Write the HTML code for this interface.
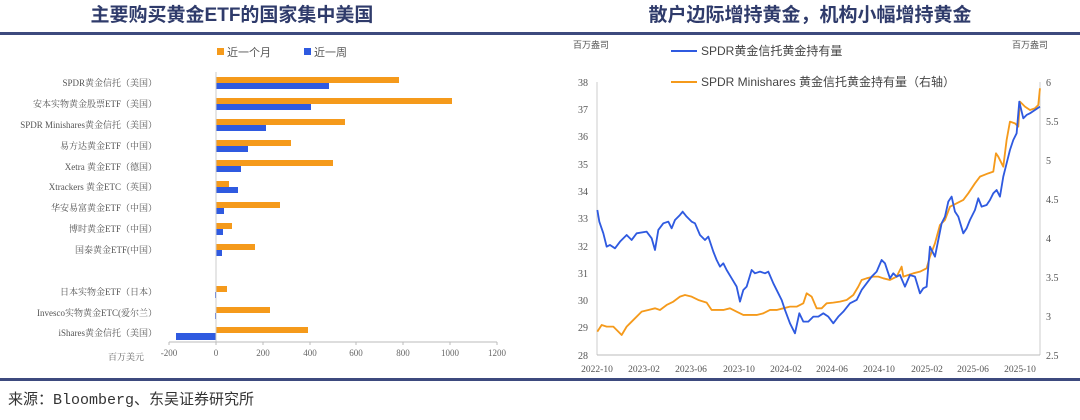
<!DOCTYPE html>
<html><head><meta charset="utf-8"><style>
body{margin:0;background:#fff;width:1080px;height:415px;overflow:hidden}
svg text{font-family:"Liberation Serif","Noto Serif CJK SC",serif}
svg text.s{font-family:"Liberation Sans","Noto Sans CJK SC",sans-serif}
</style></head><body>
<svg width="1080" height="415" viewBox="0 0 1080 415" xmlns="http://www.w3.org/2000/svg">
<rect width="1080" height="415" fill="#fff"/>
<g font-weight="bold" font-size="19" fill="#2f3b6b">
<text class="s" x="232" y="21" text-anchor="middle">主要购买黄金ETF的国家集中美国</text>
<text class="s" x="810" y="21" text-anchor="middle">散户边际增持黄金，机构小幅增持黄金</text>
</g>
<rect x="0" y="32" width="1080" height="3" fill="#3d4a7e"/>
<rect x="0" y="378" width="1080" height="3" fill="#3d4a7e"/>
<text x="8" y="404" font-size="15" fill="#333" style="font-family:'Liberation Mono','Noto Sans CJK SC',monospace">来源：Bloomberg、东吴证券研究所</text>

<!-- Left chart -->
<rect x="217" y="48" width="7" height="7" fill="#f59a1b"/>
<text class="s" x="227" y="56" font-size="11" fill="#555">近一个月</text>
<rect x="304" y="48" width="7" height="7" fill="#2f5ae0"/>
<text class="s" x="314" y="56" font-size="11" fill="#555">近一周</text>
<g fill="#f59a1b">
<rect x="216" y="77" width="183" height="6"/>
<rect x="216" y="98" width="236" height="6"/>
<rect x="216" y="119" width="129" height="6"/>
<rect x="216" y="140" width="75" height="6"/>
<rect x="216" y="160" width="117" height="6"/>
<rect x="216" y="181" width="13" height="6"/>
<rect x="216" y="202" width="64" height="6"/>
<rect x="216" y="223" width="16" height="6"/>
<rect x="216" y="244" width="39" height="6"/>
<rect x="216" y="286" width="11" height="6"/>
<rect x="216" y="307" width="54" height="6"/>
<rect x="216" y="327" width="92" height="6"/>
</g>
<g fill="#2f5ae0">
<rect x="216" y="83" width="113" height="6"/>
<rect x="216" y="104" width="95" height="6"/>
<rect x="216" y="125" width="50" height="6"/>
<rect x="216" y="146" width="32" height="6"/>
<rect x="216" y="166" width="25" height="6"/>
<rect x="216" y="187" width="22" height="6"/>
<rect x="216" y="208" width="8" height="6"/>
<rect x="216" y="229" width="7" height="6"/>
<rect x="216" y="250" width="6" height="6"/>
<rect x="215" y="292" width="1" height="6"/>
<rect x="215" y="313" width="1" height="6"/>
<rect x="176" y="333" width="40" height="7"/>
</g>
<line x1="216" y1="72" x2="216" y2="342" stroke="#ccc"/>
<line x1="169" y1="342" x2="497" y2="342" stroke="#bbb"/>
<g stroke="#bbb">
<line x1="169" y1="342" x2="169" y2="345"/><line x1="216" y1="342" x2="216" y2="345"/><line x1="263" y1="342" x2="263" y2="345"/><line x1="310" y1="342" x2="310" y2="345"/><line x1="356" y1="342" x2="356" y2="345"/><line x1="403" y1="342" x2="403" y2="345"/><line x1="450" y1="342" x2="450" y2="345"/><line x1="497" y1="342" x2="497" y2="345"/>
</g>
<g font-size="9" fill="#666" text-anchor="middle">
<text x="169" y="356">-200</text><text x="216" y="356">0</text><text x="263" y="356">200</text><text x="310" y="356">400</text><text x="356" y="356">600</text><text x="403" y="356">800</text><text x="450" y="356">1000</text><text x="497" y="356">1200</text>
</g>
<text x="126" y="360" font-size="9" fill="#666" text-anchor="middle">百万美元</text>
<g font-size="9" fill="#555" text-anchor="end">
<text x="157" y="86">SPDR黄金信托（美国）</text>
<text x="157" y="107">安本实物黄金股票ETF（美国）</text>
<text x="157" y="128">SPDR Minishares黄金信托（美国）</text>
<text x="157" y="149">易方达黄金ETF（中国）</text>
<text x="157" y="170">Xetra 黄金ETF（德国）</text>
<text x="157" y="190">Xtrackers 黄金ETC（英国）</text>
<text x="157" y="211">华安易富黄金ETF（中国）</text>
<text x="157" y="232">博时黄金ETF（中国）</text>
<text x="157" y="253">国泰黄金ETF(中国）</text>
<text x="157" y="295">日本实物金ETF（日本）</text>
<text x="157" y="316">Invesco实物黄金ETC(爱尔兰）</text>
<text x="157" y="336">iShares黄金信托（美国）</text>
</g>

<!-- Right chart -->
<g font-size="9" fill="#555">
<text class="s" x="573" y="48">百万盎司</text><text class="s" x="1012" y="48">百万盎司</text>
</g>
<line x1="671" y1="51" x2="697" y2="51" stroke="#2f5ae0" stroke-width="2"/>
<text class="s" x="701" y="55" font-size="12" fill="#444">SPDR黄金信托黄金持有量</text>
<line x1="671" y1="82" x2="697" y2="82" stroke="#f59a1b" stroke-width="2"/>
<text class="s" x="701" y="86" font-size="12" fill="#444">SPDR Minishares 黄金信托黄金持有量（右轴）</text>
<line x1="597" y1="82" x2="597" y2="355" stroke="#ccc"/>
<line x1="1040" y1="82" x2="1040" y2="355" stroke="#ccc"/>
<line x1="597" y1="355" x2="1040" y2="355" stroke="#bbb"/>
<g font-size="10" fill="#555" text-anchor="end">
<text x="588" y="86">38</text><text x="588" y="113">37</text><text x="588" y="140">36</text><text x="588" y="168">35</text><text x="588" y="195">34</text><text x="588" y="222">33</text><text x="588" y="250">32</text><text x="588" y="277">31</text><text x="588" y="304">30</text><text x="588" y="331">29</text><text x="588" y="359">28</text>
</g>
<g font-size="10" fill="#555">
<text x="1046" y="86">6</text><text x="1046" y="125">5.5</text><text x="1046" y="164">5</text><text x="1046" y="203">4.5</text><text x="1046" y="242">4</text><text x="1046" y="281">3.5</text><text x="1046" y="320">3</text><text x="1046" y="359">2.5</text>
</g>
<g font-size="9.5" fill="#555" text-anchor="middle">
<text x="597" y="372">2022-10</text><text x="644" y="372">2023-02</text><text x="691" y="372">2023-06</text><text x="739" y="372">2023-10</text><text x="786" y="372">2024-02</text><text x="832" y="372">2024-06</text><text x="879" y="372">2024-10</text><text x="927" y="372">2025-02</text><text x="973" y="372">2025-06</text><text x="1020" y="372">2025-10</text>
</g>
<g transform="translate(560,30) scale(0.3333)" fill="none" stroke-width="5.5" stroke-linejoin="round">
<polyline stroke="#f59a1b" points="112,905 125,885 140,890 160,890 175,905 185,915 200,890 210,880 225,865 245,845 265,840 285,835 300,840 320,825 340,815 360,800 375,795 395,800 415,810 440,818 455,840 470,840 490,840 510,835 530,845 550,855 570,855 590,855 610,850 630,840 650,840 670,835 690,830 710,830 730,820 740,790 755,800 770,835 785,835 800,820 820,818 840,815 860,810 880,795 895,770 905,750 920,745 940,740 955,740 970,745 990,750 1010,740 1025,710 1030,740 1045,735 1060,730 1080,725 1100,715 1110,680 1125,640 1140,585 1155,570 1170,530 1190,520 1210,510 1225,490 1245,460 1260,440 1285,430 1300,425 1308,370 1315,380 1330,410 1340,330 1350,275 1365,280 1375,290 1380,215 1395,230 1410,240 1425,235 1435,225 1440,175"/>
<polyline stroke="#2f5ae0" points="112,540 118,575 130,610 140,650 150,645 165,655 180,635 200,615 215,630 230,610 260,605 275,625 285,660 295,600 310,580 325,575 335,595 345,570 360,555 368,545 380,560 395,575 405,580 420,615 435,630 445,620 460,665 470,690 480,710 490,700 500,720 515,745 530,770 540,815 550,780 560,770 575,720 585,730 600,725 615,730 625,725 640,760 655,790 665,810 675,840 690,880 705,910 718,850 730,875 745,875 760,860 775,860 790,850 805,860 820,880 835,860 850,845 870,820 890,810 905,780 920,760 935,740 950,725 965,690 975,700 990,745 1000,730 1010,740 1020,735 1035,770 1050,735 1065,740 1080,790 1090,775 1100,770 1110,650 1125,680 1135,630 1145,580 1155,560 1165,515 1175,500 1185,545 1195,560 1210,610 1220,595 1230,570 1245,540 1255,505 1265,530 1280,525 1290,510 1300,490 1310,480 1320,500 1330,440 1340,400 1350,360 1360,330 1370,310 1378,215 1390,265 1400,255 1410,250 1425,240 1440,230"/>
</g>
</svg>
</body></html>
